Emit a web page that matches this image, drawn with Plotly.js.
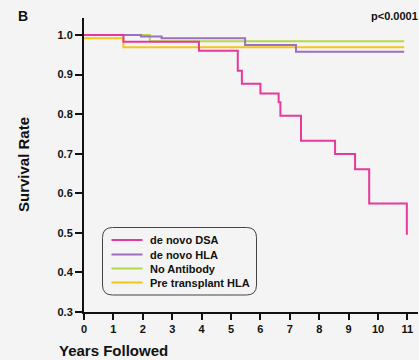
<!DOCTYPE html>
<html>
<head>
<meta charset="utf-8">
<script src="https://cdn.plot.ly/plotly-3.0.1.min.js"></script>
<style>html,body{margin:0;padding:0;background:#f4f4f4;}#chart{width:419px;height:360px;}</style>
</head>
<body>
<div id="chart"></div>
<script>
// Data
const seriesNames = ["de novo DSA", "de novo HLA", "No Antibody", "Pre transplant HLA"];
const dsaYears = [0, 1.34, 3.91, 5.23, 5.37, 6.0, 6.62, 6.68, 7.38, 8.54, 9.22, 9.70, 10.98];
const dsaSurv  = [1.0, 0.983, 0.960, 0.910, 0.877, 0.852, 0.830, 0.796, 0.733, 0.699, 0.661, 0.574, 0.495];
const hlaYears = [0, 1.94, 2.64, 5.48, 7.21, 10.89];
const hlaSurv  = [1.0, 0.996, 0.992, 0.975, 0.958, 0.958];
const noAbYears = [0, 2.24, 10.89];
const noAbSurv  = [1.0, 0.984, 0.984];
const preYears = [0, 1.34, 10.89];
const preSurv  = [0.992, 0.969, 0.969];
const xTicks = [0,1,2,3,4,5,6,7,8,9,10,11];
const yTicks = [0.3,0.4,0.5,0.6,0.7,0.8,0.9,1.0];

const colors = ["#e6399b", "#9b6fc2", "#b3d84c", "#f5c51a"];
const F = "Liberation Sans, Arial, sans-serif";

function tr(x, y, i) {
  return {x: x, y: y, name: seriesNames[i], type: "scatter", mode: "lines",
    line: {shape: "hv", color: colors[i], width: 2}};
}
const data = [
  tr(preYears, preSurv, 3),
  tr(noAbYears, noAbSurv, 2),
  tr(hlaYears, hlaSurv, 1),
  tr(dsaYears, dsaSurv, 0)
];

// plot area geometry in pixels (for placing the legend box)
const L = 84, T = 18, W = 334, H = 294;
const px = v => (v - L) / W;
const py = v => (T + H - v) / H;

const shapes = [{
  type: "path", xref: "paper", yref: "paper",
  path: (function(){
    const x0 = px(102.5), x1 = px(256.5), y0 = py(295), y1 = py(227.5);
    const rx = 10 / W, ry = 10 / H;
    return `M ${x0+rx} ${y1} L ${x1-rx} ${y1} Q ${x1} ${y1} ${x1} ${y1-ry} L ${x1} ${y0+ry} Q ${x1} ${y0} ${x1-rx} ${y0} L ${x0+rx} ${y0} Q ${x0} ${y0} ${x0} ${y0+ry} L ${x0} ${y1-ry} Q ${x0} ${y1} ${x0+rx} ${y1} Z`;
  })(),
  line: {color: "#444", width: 1}
}];
const annotations = [
  {text: "B", xref: "paper", yref: "paper", x: px(23), y: py(16), xanchor: "center", yanchor: "middle",
   showarrow: false, font: {family: F, size: 14, weight: "bold", color: "#111"}},
  {text: "p<0.0001", xref: "paper", yref: "paper", x: 1.0, y: py(16), xanchor: "right", yanchor: "middle",
   xshift: 2, showarrow: false, font: {family: F, size: 11, weight: "bold", color: "#111"}},
  {text: "Survival Rate", xref: "paper", yref: "paper", x: 0, y: 0.5, xshift: -61, textangle: -90,
   xanchor: "center", yanchor: "middle", showarrow: false,
   font: {family: F, size: 15, weight: "bold", color: "#111"}},
  {text: "Years Followed", xref: "paper", yref: "paper", x: 0, y: 0, xshift: -27, yshift: -38,
   xanchor: "left", yanchor: "middle", showarrow: false,
   font: {family: F, size: 15, weight: "bold", color: "#111"}}
];
const rowY = [240, 254.5, 268.5, 282.5];
seriesNames.forEach((name, i) => {
  shapes.push({type: "line", xref: "paper", yref: "paper",
    x0: px(111.5), x1: px(142.5), y0: py(rowY[i]), y1: py(rowY[i]),
    line: {color: colors[i], width: 2}});
  annotations.push({text: name, xref: "paper", yref: "paper", x: px(148), y: py(rowY[i]),
    xanchor: "left", yanchor: "middle", showarrow: false,
    font: {family: F, size: 11, weight: "bold", color: "#111"}});
});

const layout = {
  width: 419, height: 360,
  paper_bgcolor: "#f4f4f4", plot_bgcolor: "#f4f4f4",
  margin: {l: L, r: 1, t: T, b: 48},
  font: {family: F, color: "#111"},
  showlegend: false,
  xaxis: {
    range: [0, 11.36], tickvals: xTicks, ticktext: xTicks.map(String),
    showgrid: false, zeroline: false, showline: true, linecolor: "#111", linewidth: 2,
    ticks: "outside", ticklen: 6, tickwidth: 2, tickcolor: "#111",
    tickfont: {family: F, size: 11, weight: "bold", color: "#111"}
  },
  yaxis: {
    range: [0.3, 1.043], tickvals: yTicks, ticktext: yTicks.map(v => v.toFixed(1)),
    showgrid: false, zeroline: false, showline: true, linecolor: "#111", linewidth: 2,
    ticks: "outside", ticklen: 7, tickwidth: 2, tickcolor: "#111",
    tickfont: {family: F, size: 11, weight: "bold", color: "#111"}
  },
  shapes: shapes,
  annotations: annotations
};

Plotly.newPlot("chart", data, layout, {displayModeBar: false, staticPlot: true});
</script>
</body>
</html>
